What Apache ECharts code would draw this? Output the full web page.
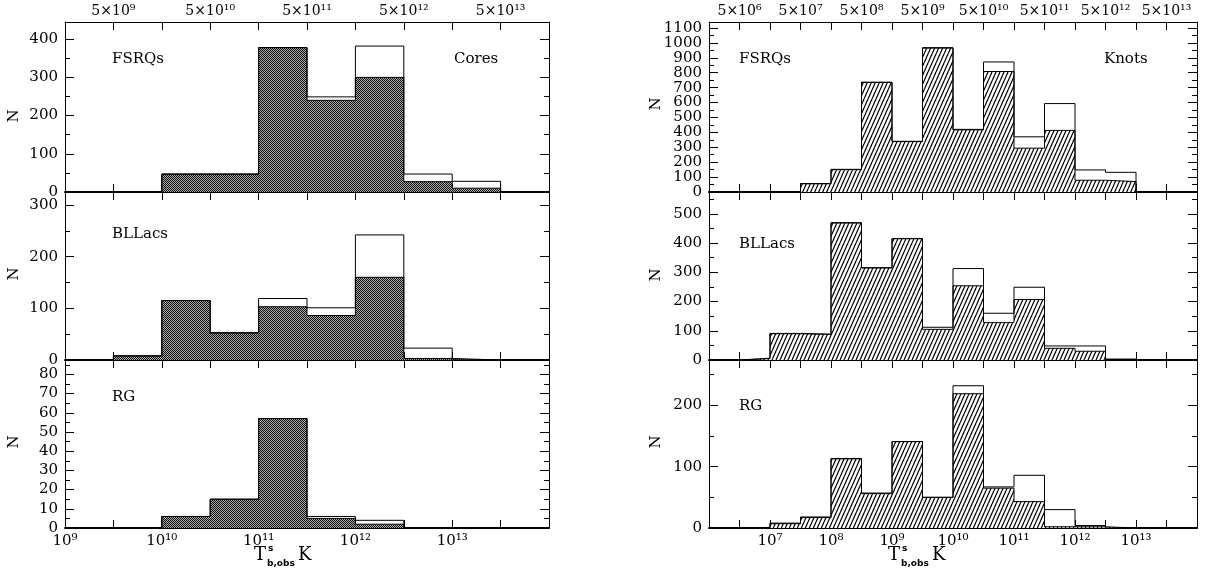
<!DOCTYPE html>
<html>
<head>
<meta charset="utf-8">
<script src="https://cdn.jsdelivr.net/npm/echarts@6/dist/echarts.min.js"></script>
<style>
  html, body { margin: 0; padding: 0; background: #fff; }
  #chart { width: 1208px; height: 570px; }
</style>
</head>
<body>
<div id="chart"></div>
<script>
// Bin starts in log10(T / K); every bin is half a decade wide.
const coreBins = [9.5, 10, 10.5, 11, 11.5, 12, 12.5, 13];
const knotBins = [6.5, 7, 7.5, 8, 8.5, 9, 9.5, 10, 10.5, 11, 11.5, 12, 12.5];
const binWidth = 0.5;

// Cores: open histogram = all components, shaded histogram = subset
const fsrqCoreAll = [0, 47, 47, 378, 249, 382, 47, 28];
const fsrqCoreSub = [0, 47, 47, 378, 240, 300, 27, 10];
const bllacCoreAll = [8, 115, 53, 119, 101, 242, 23, 0];
const bllacCoreSub = [8, 115, 52, 103, 86, 160, 3, 0];
const rgCoreAll = [0, 6, 15, 57, 6, 4, 0, 0];
const rgCoreSub = [0, 6, 15, 57, 5, 2, 0, 0];

// Knots
const fsrqKnotAll = [0, 0, 57, 152, 736, 340, 968, 420, 872, 370, 593, 148, 132];
const fsrqKnotSub = [0, 0, 55, 150, 735, 338, 965, 417, 808, 294, 413, 79, 70];
const bllacKnotAll = [6, 91, 88, 470, 316, 416, 112, 313, 160, 249, 48, 48, 3];
const bllacKnotSub = [5, 90, 88, 469, 315, 415, 105, 254, 128, 207, 40, 30, 2];
const rgKnotAll = [1, 8, 18, 113, 57, 141, 50, 232, 67, 86, 30, 4, 0];
const rgKnotSub = [0, 7, 17, 113, 56, 141, 50, 219, 65, 43, 2, 2, 0];

// Axis tick labels
const coreDecades = [9, 10, 11, 12, 13];
const coreHalves = [9.5, 10.5, 11.5, 12.5, 13.5];
const knotDecades = [7, 8, 9, 10, 11, 12, 13];
const knotHalves = [6.5, 7.5, 8.5, 9.5, 10.5, 11.5, 12.5, 13.5];
const panelNames = ['FSRQs', 'BLLacs', 'RG'];

const SUP = { '0': '⁰', '1': '¹', '2': '²', '3': '³', '4': '⁴', '5': '⁵', '6': '⁶', '7': '⁷', '8': '⁸', '9': '⁹' };
const sup = n => String(n).split('').map(c => SUP[c]).join('');
const near = (a, b) => Math.abs(a - b) < 1e-6;

// Fill patterns
function checkerPattern() {
  const c = document.createElement('canvas');
  c.width = 2; c.height = 2;
  const g = c.getContext('2d');
  g.fillStyle = '#a8a8a8'; g.fillRect(0, 0, 2, 2);
  g.fillStyle = '#111'; g.fillRect(0, 0, 1, 1); g.fillRect(1, 1, 1, 1);
  return c;
}
function hatchPattern() {
  const w = 4, h = 9;
  const c = document.createElement('canvas');
  c.width = w; c.height = h;
  const g = c.getContext('2d');
  g.fillStyle = '#fff'; g.fillRect(0, 0, w, h);
  g.strokeStyle = '#000'; g.lineWidth = 1.2;
  for (const x0 of [-w, 0, w]) {
    g.beginPath(); g.moveTo(x0, h); g.lineTo(x0 + w, 0); g.stroke();
  }
  return c;
}
const coreFill = checkerPattern();
const knotFill = hatchPattern();

// Step outline points for a histogram
function stepPoints(bins, vals) {
  const pts = [[bins[0], 0]];
  bins.forEach((b, i) => pts.push([b, vals[i]]));
  const end = bins[bins.length - 1] + binWidth;
  pts.push([end, vals[vals.length - 1]]);
  pts.push([end, 0]);
  return pts;
}

const FONT = '"DejaVu Serif", serif';
const TICK_SIZE = 15;
const columns = [
  { left: 65, width: 484, xMin: 9, decades: coreDecades, halves: coreHalves },
  { left: 709, width: 488, xMin: 6, decades: knotDecades, halves: knotHalves }
];
const rows = [
  { top: 22, height: 170 },
  { top: 192, height: 168 },
  { top: 360, height: 168 }
];
const panels = [
  { col: 0, row: 0, yMax: 445, major: 100, bins: coreBins, all: fsrqCoreAll, sub: fsrqCoreSub, fill: coreFill },
  { col: 0, row: 1, yMax: 325, major: 100, bins: coreBins, all: bllacCoreAll, sub: bllacCoreSub, fill: coreFill },
  { col: 0, row: 2, yMax: 87.5, major: 10, bins: coreBins, all: rgCoreAll, sub: rgCoreSub, fill: coreFill },
  { col: 1, row: 0, yMax: 1140, major: 100, bins: knotBins, all: fsrqKnotAll, sub: fsrqKnotSub, fill: knotFill },
  { col: 1, row: 1, yMax: 575, major: 100, bins: knotBins, all: bllacKnotAll, sub: bllacKnotSub, fill: knotFill },
  { col: 1, row: 2, yMax: 274, major: 100, bins: knotBins, all: rgKnotAll, sub: rgKnotSub, fill: knotFill }
];

const grid = [], xAxis = [], yAxis = [], series = [];
const black = { color: '#000', width: 1 };

panels.forEach((p, i) => {
  const col = columns[p.col], row = rows[p.row];
  grid.push({ left: col.left, top: row.top, width: col.width, height: row.height, containLabel: false });

  const xBase = {
    gridIndex: i, type: 'value', min: col.xMin, max: 14, interval: 0.5,
    splitLine: { show: false },
    axisTick: { inside: true, length: 8, lineStyle: black }
  };
  // bottom axis (thick zero line)
  xAxis.push(Object.assign({}, xBase, {
    position: 'bottom',
    axisLine: { onZero: false, lineStyle: { color: '#000', width: 2 } },
    axisLabel: {
      show: p.row === 2, margin: 6, color: '#000', fontFamily: FONT, fontSize: TICK_SIZE,
      formatter: v => col.decades.some(d => near(d, v)) ? '10' + sup(Math.round(v)) : ''
    }
  }));
  // top axis
  xAxis.push(Object.assign({}, xBase, {
    position: 'top',
    axisLine: { onZero: false, lineStyle: black },
    axisLabel: {
      show: p.row === 0, margin: 4, color: '#000', fontFamily: FONT, fontSize: 14,
      formatter: v => col.halves.some(d => near(d, v)) ? '5×10' + sup(Math.floor(v)) : ''
    }
  }));

  const yBase = {
    gridIndex: i, type: 'value', min: 0, max: p.yMax,
    splitLine: { show: false }
  };
  ['left', 'right'].forEach(side => {
    // major ticks (labelled on the left)
    yAxis.push(Object.assign({}, yBase, {
      position: side, interval: p.major,
      axisLine: { show: true, onZero: false, lineStyle: black },
      axisTick: { inside: true, length: 9, lineStyle: black },
      axisLabel: {
        show: side === 'left', margin: 7, color: '#000', fontFamily: FONT, fontSize: TICK_SIZE,
        formatter: v => near(v / p.major, Math.round(v / p.major)) ? String(Math.round(v)) : ''
      }
    }));
    // minor ticks
    yAxis.push(Object.assign({}, yBase, {
      position: side, interval: p.major / 2,
      axisLine: { show: false, onZero: false },
      axisTick: { inside: true, length: 5, lineStyle: black },
      axisLabel: { show: false }
    }));
  });

  series.push({
    type: 'line', xAxisIndex: 2 * i, yAxisIndex: 4 * i, step: 'end',
    symbol: 'none', silent: true, z: 2,
    data: stepPoints(p.bins, p.sub),
    lineStyle: { color: '#000', width: 1 },
    areaStyle: { color: { image: p.fill, repeat: 'repeat' }, opacity: 1 }
  });
  series.push({
    type: 'line', xAxisIndex: 2 * i, yAxisIndex: 4 * i, step: 'end',
    symbol: 'none', silent: true, z: 3,
    data: stepPoints(p.bins, p.all),
    lineStyle: { color: '#000', width: 1 }
  });
});

// Free text: panel names, N labels, axis titles
function txt(x, y, text, font, align) {
  const a = align || 'left';
  return {
    type: 'text', x: x, y: y, silent: true,
    style: { text: text, font: font, fill: '#000', textAlign: a, textVerticalAlign: 'middle', align: a, verticalAlign: 'middle' }
  };
}
const nameFont = '15px "DejaVu Serif", serif';
const graphic = [
  txt(112, 59, panelNames[0], nameFont),
  txt(454, 59, 'Cores', nameFont),
  txt(112, 234, panelNames[1], nameFont),
  txt(112, 397, panelNames[2], nameFont),
  txt(739, 59, panelNames[0], nameFont),
  txt(1104, 59, 'Knots', nameFont),
  txt(739, 244, panelNames[1], nameFont),
  txt(739, 406, panelNames[2], nameFont)
];
// rotated N on each panel
[[14, 116], [14, 274], [14, 442], [656, 104], [656, 275], [656, 442]].forEach(([x, y]) => {
  const n = txt(x, y, 'N', '15px "DejaVu Serif", serif', 'center');
  n.rotation = Math.PI / 2;
  graphic.push(n);
});
// x-axis titles: T^s_{b,obs} K
[254, 888].forEach(x0 => {
  graphic.push(txt(x0, 555, 'T', '18px "DejaVu Serif", serif'));
  graphic.push(txt(x0 + 14, 549, 's', 'bold 9px "DejaVu Sans", sans-serif'));
  graphic.push(txt(x0 + 13, 564, 'b,obs', 'bold 9px "DejaVu Sans", sans-serif'));
  graphic.push(txt(x0 + 44, 555, 'K', '18px "DejaVu Serif", serif'));
});

const chart = echarts.init(document.getElementById('chart'), null, { renderer: 'canvas' });
chart.setOption({
  animation: false,
  backgroundColor: '#fff',
  grid: grid,
  xAxis: xAxis,
  yAxis: yAxis,
  series: series,
  graphic: graphic
});
</script>
</body>
</html>
